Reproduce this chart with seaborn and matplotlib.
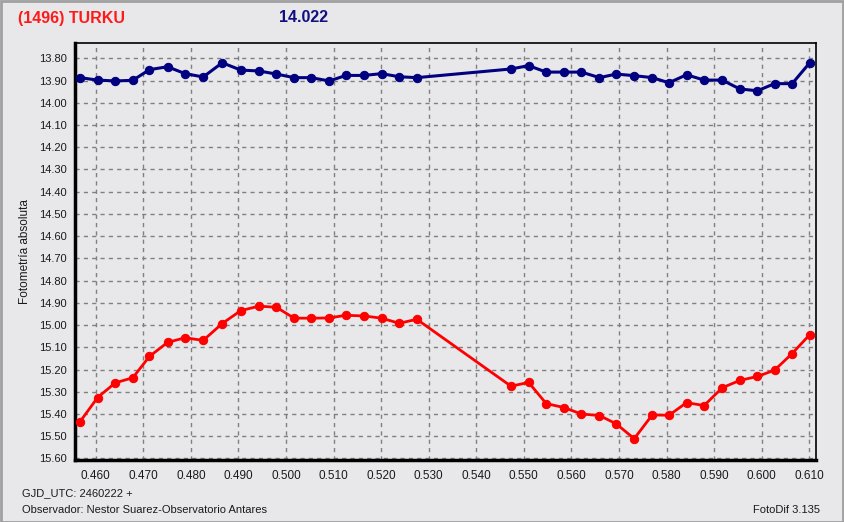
import matplotlib
matplotlib.use("Agg")
import matplotlib.pyplot as plt
import seaborn as sns
import pandas as pd
from matplotlib.patches import Rectangle

# ---- data ----
gjd = [0.4567, 0.4604, 0.4641, 0.4678, 0.4713, 0.4751, 0.4788, 0.4826, 0.4866, 0.4905,
       0.4943, 0.4980, 0.5017, 0.5053, 0.5091, 0.5126, 0.5164, 0.5201, 0.5238, 0.5275,
       0.5473, 0.5510, 0.5547, 0.5584, 0.5621, 0.5659, 0.5694, 0.5732, 0.5770, 0.5805,
       0.5842, 0.5879, 0.5917, 0.5954, 0.5991, 0.6027, 0.6064, 0.6101]
comparison = [13.887, 13.898, 13.902, 13.899, 13.851, 13.838, 13.869, 13.884, 13.820, 13.853,
              13.857, 13.871, 13.887, 13.887, 13.902, 13.877, 13.877, 13.869, 13.883, 13.887,
              13.848, 13.833, 13.862, 13.862, 13.862, 13.887, 13.871, 13.878, 13.887, 13.910,
              13.874, 13.898, 13.898, 13.938, 13.946, 13.914, 13.914, 13.820]
asteroid = [15.435, 15.326, 15.260, 15.237, 15.141, 15.078, 15.057, 15.069, 14.993, 14.935,
            14.915, 14.920, 14.969, 14.969, 14.968, 14.956, 14.959, 14.969, 14.992, 14.974,
            15.275, 15.258, 15.353, 15.371, 15.400, 15.407, 15.444, 15.511, 15.404, 15.406,
            15.349, 15.362, 15.282, 15.249, 15.231, 15.203, 15.128, 15.043]
x_ticks = [0.46 + 0.01 * i for i in range(16)]
y_ticks = [13.8 + 0.1 * i for i in range(19)]
title_left = "(1496) TURKU"
title_value = "14.022"
y_label = "Fotometría absoluta"
footer_date = "GJD_UTC: 2460222 +"
footer_obs = "Observador: Nestor Suarez-Observatorio Antares"
footer_soft = "FotoDif 3.135"

sns.set_theme(style="white")
plt.rcParams['font.family'] = ['Liberation Sans', 'DejaVu Sans']

bg = "#e8e8ea"
W, H = 844, 522
fig = plt.figure(figsize=(W / 100, H / 100), dpi=100, facecolor=bg)
ax = fig.add_axes([75 / W, 1 - 460 / H, (815.7 - 75) / W, (460 - 43.3) / H])
ax.set_facecolor(bg)

df = pd.DataFrame({"x": gjd, "comp": comparison, "ast": asteroid})
sns.lineplot(data=df, x="x", y="comp", ax=ax, color="#000080", marker="o",
             markersize=6, linewidth=2.2, markeredgecolor="#000080", sort=False, zorder=3)
sns.lineplot(data=df, x="x", y="ast", ax=ax, color="#ff0000", marker="o",
             markersize=6, linewidth=2, markeredgecolor="#ff0000", sort=False, zorder=3)

ax.set_xlim(0.45565, 0.61135)
ax.set_ylim(15.607, 13.7325)
ax.set_xticks(x_ticks)
ax.set_xticklabels([f"{v:.3f}" for v in x_ticks], fontsize=8.5)
ax.set_yticks(y_ticks)
ax.set_yticklabels([f"{v:.2f}" for v in y_ticks], fontsize=8)
ax.tick_params(axis="both", direction="out", length=4, width=1, color="#303030",
               labelcolor="#1a1a1a", pad=2)
ax.tick_params(axis="x", pad=3)
ax.grid(True, linestyle=(0, (3, 3)), color="#808080", linewidth=1)
ax.set_xlabel("")
ax.set_ylabel(y_label, fontsize=8.5, color="#1a1a1a")
ax.yaxis.set_label_coords((31 - 75) / (815.7 - 75), 0.5)

for side in ["top", "right"]:
    ax.spines[side].set_color("black")
    ax.spines[side].set_linewidth(1.2)
for side in ["left", "bottom"]:
    ax.spines[side].set_color("black")
    ax.spines[side].set_linewidth(2.5)

fig.text(18 / W, 1 - 18 / H, title_left, color="#ff1a1a", fontsize=11.5, fontweight="bold",
         ha="left", va="center")
fig.text(279 / W, 1 - 18 / H, title_value, color="#101080", fontsize=11.5, fontweight="bold",
         ha="left", va="center")
fig.text(22 / W, 1 - 493 / H, footer_date, fontsize=8, color="#1a1a1a", ha="left", va="center")
fig.text(22 / W, 1 - 510 / H, footer_obs, fontsize=8, color="#1a1a1a", ha="left", va="center")
fig.text(820 / W, 1 - 510 / H, footer_soft, fontsize=8, color="#1a1a1a", ha="right", va="center")

fig.patches.append(Rectangle((0.5 / W, 0.5 / H), 1 - 1.5 / W, 1 - 1.5 / H, transform=fig.transFigure,
                             fill=False, edgecolor="#a0a0a0", linewidth=2))

fig.savefig("out.png", dpi=100, facecolor=bg)
